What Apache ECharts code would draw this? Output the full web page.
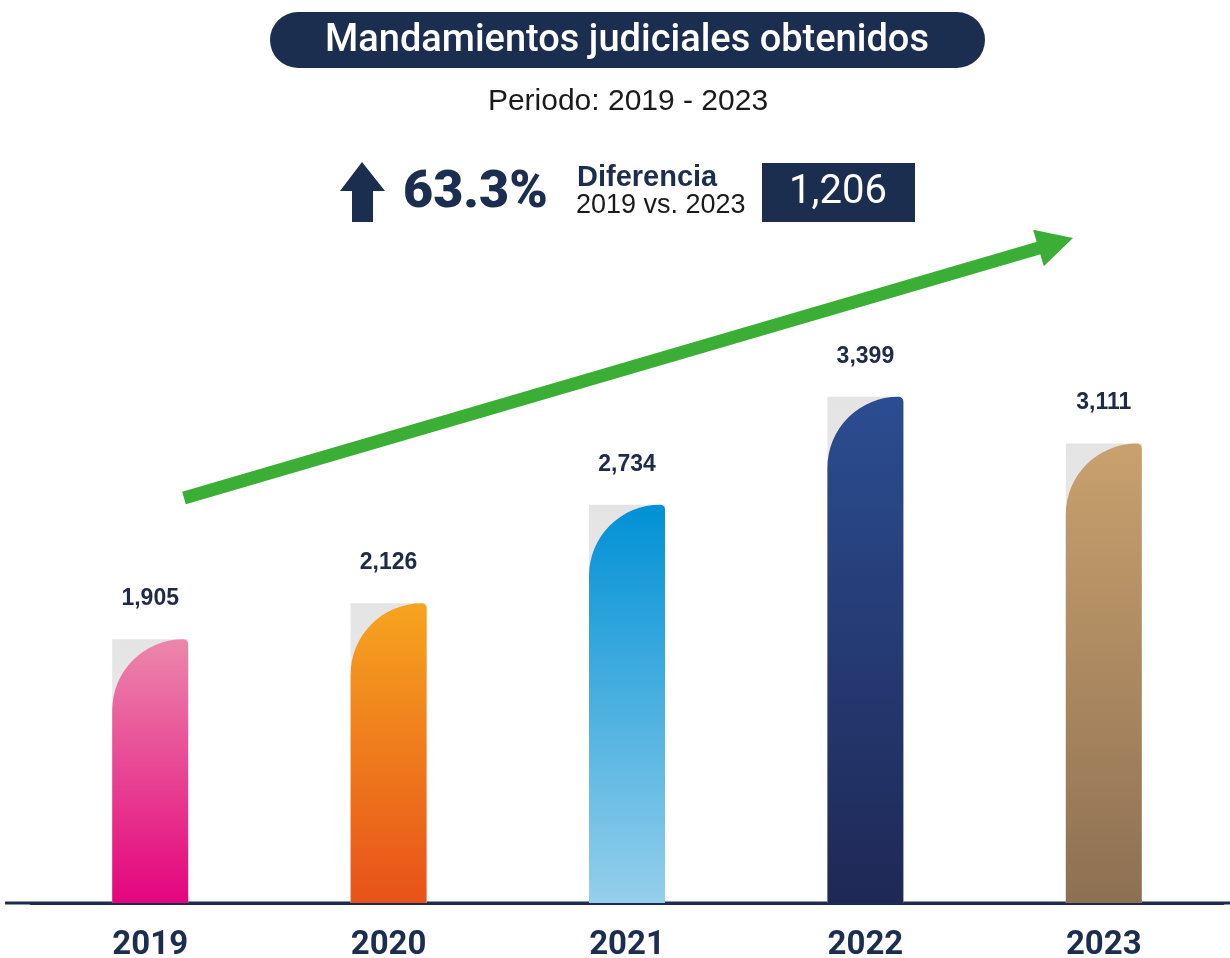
<!DOCTYPE html>
<html lang="es">
<head>
<meta charset="utf-8">
<title>Mandamientos judiciales obtenidos</title>
<script src="https://cdn.jsdelivr.net/npm/echarts@6/dist/echarts.min.js"></script>
<style>
  html, body { margin: 0; padding: 0; background: #ffffff; }
  #chart { width: 1230px; height: 958px; }
</style>
</head>
<body>
<div id="chart"></div>
<script>
// -- Data --
const years = ['2019', '2020', '2021', '2022', '2023'];
const mandamientos = [1905, 2126, 2734, 3399, 3111];
const pctChange = '63.3%';
const diffValue = '1,206';

// -- Colors (top -> bottom of each bar) --
const BAR_COLORS = [
  ['#ec87ab', '#e4047d'],
  ['#f6a41f', '#e8521a'],
  ['#0091d5', '#95cfeb'],
  ['#2b4d91', '#1f2855'],
  ['#c9a16e', '#8d7053']
];
const NAVY = '#1c2e50';
const GREEN = '#3bae36';

const grad = (top, bottom) =>
  new echarts.graphic.LinearGradient(0, 0, 0, 1, [
    { offset: 0, color: top },
    { offset: 1, color: bottom }
  ]);

const chart = echarts.init(document.getElementById('chart'), null, { renderer: 'canvas' });

// Green trend arrow (decoration)
const arrowStart = [184, 498];
const arrowTip = [1073, 238];
function arrowHead(tip, from, len, half) {
  const dx = tip[0] - from[0], dy = tip[1] - from[1];
  const d = Math.hypot(dx, dy);
  const ux = dx / d, uy = dy / d;
  const bx = tip[0] - ux * len, by = tip[1] - uy * len;
  return {
    base: [bx + ux * 4, by + uy * 4],
    points: [tip, [bx - uy * half, by + ux * half], [bx + uy * half, by - ux * half]]
  };
}
const head = arrowHead(arrowTip, arrowStart, 36, 19);

const txt = (text, x, y, font, fill, align) => ({
  type: 'text',
  style: {
    text, x, y, font, fill,
    align: align || 'center', verticalAlign: 'middle',
    textAlign: align || 'center', textVerticalAlign: 'middle'
  }
});

chart.setOption({
  backgroundColor: '#ffffff',
  animation: false,
  grid: { left: 31, right: 7, top: 218, bottom: 55, outerBoundsMode: 'none', containLabel: false },
  xAxis: {
    type: 'category',
    data: years,
    axisLine: { show: true, lineStyle: { color: NAVY, width: 3 } },
    axisTick: { show: false },
    axisLabel: {
      margin: 26,
      color: NAVY,
      fontFamily: 'Roboto',
      fontWeight: 'bold',
      fontSize: 33
    }
  },
  yAxis: {
    type: 'value',
    min: 280,
    max: 4500,
    show: false,
    splitLine: { show: false }
  },
  series: [
    {
      // gray backing box behind each bar
      type: 'bar',
      barWidth: 76,
      barGap: '-100%',
      silent: true,
      z: 1,
      data: mandamientos,
      itemStyle: { color: grad('#e4e4e4', '#f6f6f6') }
    },
    {
      type: 'bar',
      barWidth: 76,
      z: 2,
      data: mandamientos.map((v, i) => ({
        value: v,
        itemStyle: { color: grad(BAR_COLORS[i][0], BAR_COLORS[i][1]) }
      })),
      itemStyle: { borderRadius: [72, 5, 0, 0] },
      label: {
        show: true,
        position: 'top',
        distance: 29,
        color: '#1f2a48',
        fontFamily: 'Liberation Sans',
        fontWeight: 'bold',
        fontSize: 23,
        formatter: p => p.value.toLocaleString('en-US')
      }
    }
  ],
  graphic: [
    // title pill
    { type: 'rect', shape: { x: 270, y: 12, width: 715, height: 56, r: 28 }, style: { fill: NAVY } },
    txt('Mandamientos judiciales obtenidos', 627, 41, '500 38px Roboto', '#ffffff'),
    txt('Periodo: 2019 - 2023', 628, 102, '30px "Liberation Sans"', '#1a1a1a'),
    // up arrow icon
    {
      type: 'polygon',
      shape: { points: [[340, 191], [362, 162], [385, 191], [373, 191], [373, 222], [352, 222], [352, 191]] },
      style: { fill: NAVY }
    },
    txt(pctChange, 403, 194, '900 52px Roboto', NAVY, 'left'),
    txt('Diferencia', 577, 178, 'bold 29px "Liberation Sans"', NAVY, 'left'),
    txt('2019 vs. 2023', 576, 206, '27px "Liberation Sans"', '#1a1a1a', 'left'),
    { type: 'rect', shape: { x: 762, y: 163, width: 153, height: 59 }, style: { fill: NAVY } },
    txt(diffValue, 838, 193, '400 40px Roboto', '#ffffff'),
    // baseline extension to page edges
    { type: 'line', shape: { x1: 5, y1: 903, x2: 1230, y2: 903 }, style: { stroke: NAVY, lineWidth: 3 }, z: -1 },
    // green trend arrow
    {
      type: 'line',
      shape: { x1: arrowStart[0], y1: arrowStart[1], x2: head.base[0], y2: head.base[1] },
      style: { stroke: GREEN, lineWidth: 13, lineCap: 'butt' }
    },
    { type: 'polygon', shape: { points: head.points }, style: { fill: GREEN } }
  ]
});

window.addEventListener('resize', () => chart.resize());
</script>
</body>
</html>
